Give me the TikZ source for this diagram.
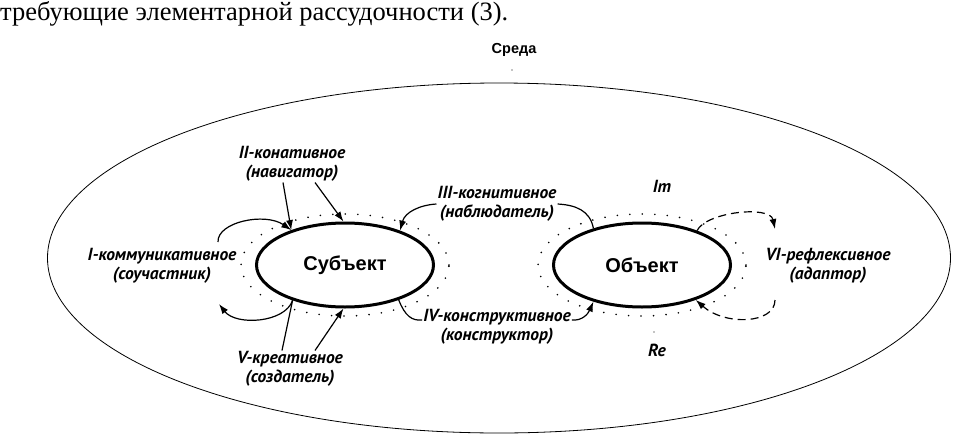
\documentclass[tikz,border=0pt]{standalone}
\usepackage{fontspec}
\setmainfont{Liberation Serif}
\newfontfamily\arialf{Liberation Sans}
\newfontfamily\ptf{PT Sans}
\usetikzlibrary{shapes.geometric,arrows.meta}
\begin{document}
\begin{tikzpicture}[x=1pt,y=-1pt,
  lbl/.style={align=center, font=\ptf\bfseries\itshape\fontsize{17.5}{18.5}\selectfont, inner sep=1pt},
  actor/.style={ellipse, draw, line width=3pt, minimum width=177pt, minimum height=84pt, inner sep=0pt, font=\arialf\bfseries\fontsize{20}{24}\selectfont},
  ring/.style={ellipse, draw, line width=1.8pt, line cap=round, dash pattern=on 0pt off 12.5pt, minimum width=208pt, minimum height=102pt, inner sep=0pt},
  conn/.style={line width=1.2pt},
  arr/.style={conn, -{Latex[length=10pt,width=7pt]}},
  dsh/.style={dash pattern=on 8pt off 5pt}
]
\useasboundingbox (0,0) rectangle (959,434);
\node[anchor=base west, inner sep=0pt, font=\fontsize{26.5}{30}\selectfont] (top) at (0,20.5) {требующие элементарной рассудочности (3).};
\node[font=\arialf\bfseries\fontsize{14.5}{16}\selectfont] (env) at (514,50) {Среда};
\node[ellipse, draw, line width=0.8pt, minimum width=903pt, minimum height=350pt, inner sep=0pt] (outer) at (499,258) {};
\fill (512,70) circle (0.7);
\fill (654,332) circle (0.7);
% actors
\node[ring] (subjring) at (345,265) {};
\node[actor] (subj) at (345,265) {Субъект};
\node[ring] (objring) at (642,265) {};
\node[actor] (obj) at (642,265) {Объект};
% labels
\node[lbl] (l1) at (162,266) {I-коммуникативное\\(соучастник)};
\node[lbl] (l2) at (292,164) {II-конативное\\(навигатор)};
\node[lbl] (l3) at (497,204) {III-когнитивное\\(наблюдатель)};
\node[lbl] (l4) at (497,327) {IV-конструктивное\\(конструктор)};
\node[lbl] (l5) at (290,369) {V-креативное\\(создатель)};
\node[lbl] (l6) at (828,266) {VI-рефлексивное\\(адаптор)};
\node[lbl] (im) at (662,186) {Im};
\node[lbl] (re) at (657,350) {Re};
% I
\coordinate (c1a) at (218,242);
\coordinate (c1b) at (219,304);
\draw[arr] (c1a) .. controls (217,222) and (265,212) .. (subj.147);
\draw[arr] (subj.214) .. controls (285,323) and (236,326) .. (c1b);
% II
\draw[arr] ([xshift=-9pt]l2.south) -- (subj.147);
\draw[arr] ([xshift=23pt]l2.south) -- (subj.92);
% III
\draw[arr] (l3.west) .. controls (420,205) and (405,212) .. (subj.32);
\draw[conn] (obj.143) .. controls (590,210) and (575,205) .. (l3.east);
% IV
\draw[conn] (subj.-33) .. controls (405,316) and (412,321) .. ([yshift=7pt]l4.west);
\draw[arr] ([yshift=7pt]l4.east) .. controls (582,321) and (588,314) .. (obj.217);
% V
\draw[conn] ([xshift=-8pt]l5.north) -- (subj.214);
\draw[arr] ([xshift=25pt]l5.north) -- (subj.268);
% VI
\coordinate (c6a) at (775,229);
\coordinate (c6b) at (775,300);
\draw[arr,dsh] (obj.32) .. controls (706,212) and (770,205) .. (c6a);
\draw[arr,dsh] (c6b) .. controls (775,324) and (725,326) .. (obj.-33);
\end{tikzpicture}
\end{document}
